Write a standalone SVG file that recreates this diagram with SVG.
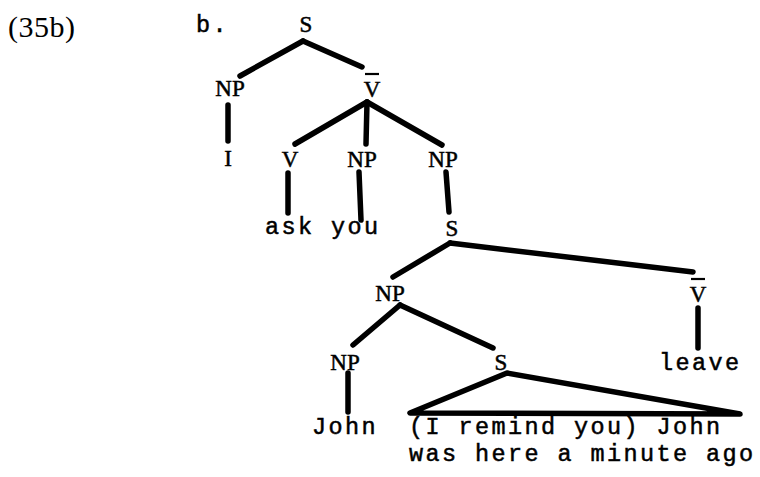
<svg xmlns="http://www.w3.org/2000/svg" width="760" height="477" viewBox="0 0 760 477">
  <style>
    .cat { font-family: "Liberation Serif", "Times New Roman", serif; font-size: 23px; fill: #000; stroke: #000; stroke-width: 0.5px; text-anchor: middle; }
    .word { font-family: "Liberation Mono", "Courier New", monospace; font-size: 23.5px; letter-spacing: 2.4px; fill: #000; stroke: #000; stroke-width: 0.5px; }
    .num { font-family: "Liberation Serif", "Times New Roman", serif; font-size: 30px; fill: #000; }
    .edge { stroke: #000; stroke-width: 5.5; stroke-linecap: round; fill: none; }
    .bar { stroke: #000; stroke-width: 2.2; }
  </style>
  <rect width="760" height="477" fill="#fff"/>

  <!-- example number and sub-label -->
  <text class="num" x="8" y="37" textLength="67" lengthAdjust="spacing">(35b)</text>
  <text class="word" x="196" y="32" letter-spacing="5">b.</text>

  <!-- tree branches -->
  <g id="connectors">
    <path class="edge" d="M303 41 L240 76"/>
    <path class="edge" d="M303 41 L362 67"/>
    <path class="edge" d="M228 105 L228 141"/>
    <path class="edge" d="M367 102 L295 144"/>
    <path class="edge" d="M367 102 L366 144"/>
    <path class="edge" d="M367 102 L442 145"/>
    <path class="edge" d="M288 173 L288 213"/>
    <path class="edge" d="M359 172 L361 220"/>
    <path class="edge" d="M446 172 L449 212"/>
    <path class="edge" d="M450 243 L393 277"/>
    <path class="edge" d="M450 243 L693 272"/>
    <path class="edge" d="M400 305 L353 345"/>
    <path class="edge" d="M400 305 L493 348"/>
    <path class="edge" d="M698 308 L698 348"/>
    <path class="edge" d="M348 373 L348 412"/>
    <path class="edge" d="M507 373 L410 413 L740 414 Z" stroke-linejoin="round"/>
  </g>

  <g id="n-S0"><text class="cat" x="306" y="32">S</text></g>
  <g id="n-NP1"><text class="cat" x="230" y="96">NP</text></g>
  <g id="n-Vbar1"><line class="bar" x1="365" y1="74" x2="379" y2="74"/><text class="cat" x="372" y="97">V</text></g>
  <g id="n-I"><text class="cat" x="228" y="166">I</text></g>
  <g id="n-V"><text class="cat" x="290" y="167">V</text></g>
  <g id="n-NP2"><text class="cat" x="362" y="167">NP</text></g>
  <g id="n-NP3"><text class="cat" x="443" y="167">NP</text></g>
  <g id="n-askyou"><text class="word" x="265" y="234">ask you</text></g>
  <g id="n-S1"><text class="cat" x="452" y="236">S</text></g>
  <g id="n-NP4"><text class="cat" x="390" y="301">NP</text></g>
  <g id="n-Vbar2"><line class="bar" x1="691" y1="279" x2="705" y2="279"/><text class="cat" x="698" y="302">V</text></g>
  <g id="n-NP5"><text class="cat" x="345" y="370">NP</text></g>
  <g id="n-S2"><text class="cat" x="501" y="370">S</text></g>
  <g id="n-leave"><text class="word" x="659" y="370">leave</text></g>
  <g id="n-John"><text class="word" x="312" y="434">John</text></g>
  <g id="n-clause">
    <text class="word" x="409" y="434">(I remind you) John</text>
    <text class="word" x="409" y="461">was here a minute ago</text>
  </g>
</svg>
